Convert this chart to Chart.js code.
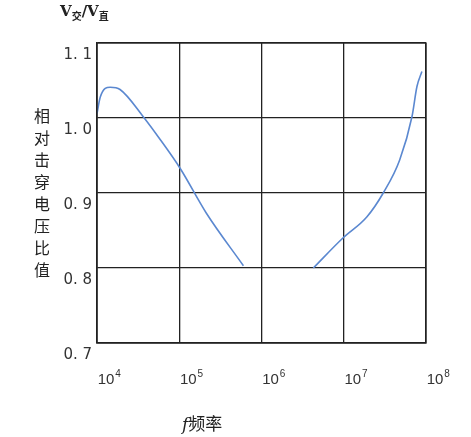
<!DOCTYPE html>
<html>
<head>
<meta charset="utf-8">
<script src="https://cdn.jsdelivr.net/npm/chart.js@4/dist/chart.umd.min.js"></script>
<style>
    body { margin: 0; background: #fff; }
    #wrap { position: relative; width: 471px; height: 437px; }
    .txt { position: absolute; font-family: "Noto Sans CJK SC", sans-serif; color: #222; }
</style>
</head>
<body>
<div id="wrap">
    <canvas id="chart" width="471" height="437"></canvas>
    <div class="txt" style="left:60px; top:2px; font-family:'DejaVu Serif', serif; font-weight:bold; font-size:15px;">V<sub style="font-size:10px;font-family:'Noto Sans CJK SC'">交</sub>/V<sub style="font-size:10px;font-family:'Noto Sans CJK SC'">直</sub></div>
    <div class="txt" style="left:32px; top:104px; width:20px; font-size:16px; line-height:22px; text-align:center;">相对击穿电压比值</div>
    <div class="txt" style="left:182px; top:410px; font-size:17px;"><i style="font-family:'DejaVu Serif', serif;">f</i>频率</div>
</div>
<script>
// x values are log10 of frequency
const xTicks = [4, 5, 6, 7, 8];
const yTicks = [1.1, 1.0, 0.9, 0.8, 0.7];
const yTickLabels = ["1. 1", "1. 0", "0. 9", "0. 8", "0. 7"];

const lowFreqX = [4.0, 4.04, 4.16, 4.28, 4.56, 4.77, 5.01, 5.33, 5.78];
const lowFreqY = [1.006, 1.028, 1.041, 1.038, 1.002, 0.971, 0.933, 0.873, 0.803];
const highFreqX = [6.63, 6.99, 7.28, 7.48, 7.68, 7.83, 7.89, 7.95];
const highFreqY = [0.800, 0.840, 0.868, 0.900, 0.944, 1.002, 1.042, 1.062];

const toPoints = (xs, ys) => xs.map((x, i) => ({ x: x, y: ys[i] }));

const labelPlugin = {
    id: "labels",
    afterDraw: (chart) => {
        const ctx = chart.ctx;
        const area = chart.chartArea;
        ctx.save();
        ctx.strokeStyle = "#222";
        ctx.lineWidth = 1.3;
        ctx.strokeRect(area.left, area.top, area.right - area.left, area.bottom - area.top);

        ctx.fillStyle = "#333";
        ctx.font = "15px 'DejaVu Sans'";
        ctx.textAlign = "right";
        ctx.textBaseline = "middle";
        yTicks.forEach((v, i) => {
            ctx.fillText(yTickLabels[i], 92, chart.scales.y.getPixelForValue(v) + 12);
        });

        ctx.textAlign = "center";
        xTicks.forEach((v) => {
            const px = chart.scales.x.getPixelForValue(v) + 12;
            ctx.font = "15px 'Liberation Sans'";
            ctx.fillText("10", px - 3, 380);
            ctx.font = "10px 'Liberation Sans'";
            ctx.fillText(String(v), px + 9, 374);
        });
        ctx.restore();
    }
};

const lineStyle = {
    showLine: true,
    borderColor: "#5b88d0",
    borderWidth: 1.6,
    pointRadius: 0,
    cubicInterpolationMode: "monotone",
    fill: false
};

new Chart(document.querySelector("#chart"), {
    type: "scatter",
    data: {
        datasets: [
            Object.assign({ data: toPoints(lowFreqX, lowFreqY) }, lineStyle),
            Object.assign({ data: toPoints(highFreqX, highFreqY) }, lineStyle)
        ]
    },
    options: {
        responsive: false,
        animation: false,
        layout: { padding: { left: 97, right: 45, top: 43, bottom: 94 } },
        plugins: { legend: { display: false }, tooltip: { enabled: false } },
        scales: {
            x: {
                type: "linear",
                min: 4,
                max: 8,
                ticks: { display: false, stepSize: 1 },
                grid: { color: "#222", lineWidth: 1.3, drawTicks: false },
                border: { color: "#222", width: 1.3 },
                afterFit: (scale) => { scale.height = 0; }
            },
            y: {
                min: 0.7,
                max: 1.1,
                ticks: { display: false, stepSize: 0.1 },
                grid: { color: "#222", lineWidth: 1.3, drawTicks: false },
                border: { color: "#222", width: 1.3 },
                afterFit: (scale) => { scale.width = 0; }
            }
        }
    },
    plugins: [labelPlugin]
});
</script>
</body>
</html>
